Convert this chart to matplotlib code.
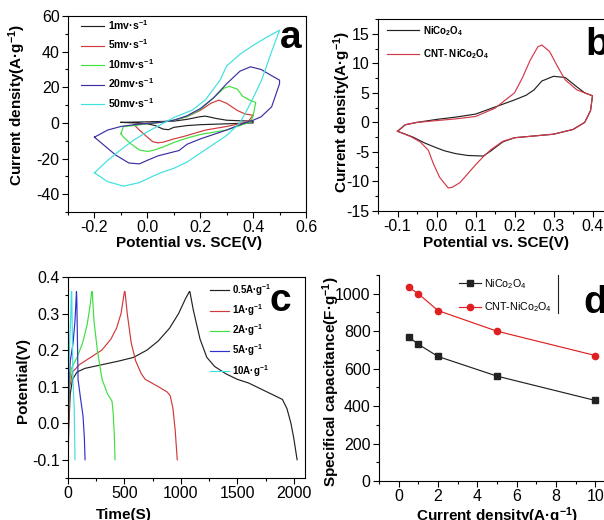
import matplotlib
matplotlib.use('Agg')
import matplotlib.pyplot as plt
from matplotlib.ticker import MultipleLocator, FormatStrFormatter

plt.rcParams['font.family'] = ['Liberation Sans', 'DejaVu Sans']
plt.rcParams['mathtext.fontset'] = 'custom'
plt.rcParams['mathtext.rm'] = 'Liberation Sans'
plt.rcParams['mathtext.bf'] = 'Liberation Sans:bold'
plt.rcParams['mathtext.default'] = 'regular'
plt.rcParams['axes.unicode_minus'] = False

# ---------------- Panel a: CV at different scan rates ----------------
a_labels = ['1mv·s$^{-1}$', '5mv·s$^{-1}$', '10mv·s$^{-1}$', '20mv·s$^{-1}$', '50mv·s$^{-1}$']
a_colors = ['#222222', '#d03a3a', '#3fe03f', '#3a30a0', '#3fe0e0']

a1_x = [-0.1, 0.0, 0.1, 0.15, 0.2, 0.22, 0.26, 0.3, 0.35, 0.4, 0.4, 0.3, 0.2, 0.15, 0.1, 0.08, 0.06, 0.03, 0.0, -0.05, -0.1]
a1_y = [0.3, 0.6, 1.0, 2.0, 3.5, 3.8, 2.5, 1.5, 1.2, 1.0, 0.0, -0.5, -1.0, -1.5, -2.5, -3.8, -3.5, -1.5, -0.5, 0.0, 0.3]

a5_x = [-0.05, 0.0, 0.05, 0.1, 0.15, 0.2, 0.24, 0.27, 0.3, 0.34, 0.37, 0.4,
        0.4, 0.38, 0.3, 0.22, 0.14, 0.1, 0.06, 0.04, 0.02, 0.0, -0.03, -0.05]
a5_y = [-1.0, -0.3, 0.3, 1.5, 3.5, 7.0, 11.0, 12.8, 11.0, 7.0, 5.0, 4.3,
        4.3, 0.5, -2.0, -4.0, -7.5, -9.0, -10.8, -11.2, -10.5, -8.0, -4.0, -1.0]

a10_x = [-0.1, -0.09, -0.05, 0.0, 0.05, 0.1, 0.15, 0.2, 0.25, 0.29, 0.31, 0.34, 0.36, 0.39, 0.41,
         0.40, 0.39, 0.3, 0.2, 0.15, 0.1, 0.06, 0.02, 0.0, -0.03, -0.06, -0.09, -0.1]
a10_y = [-6.0, -2.0, -1.5, -0.5, 0.3, 1.5, 3.5, 7.5, 14.0, 19.5, 20.5, 19.0, 15.0, 12.5, 11.5,
         4.0, 0.5, -4.0, -6.5, -8.5, -11.0, -13.5, -15.5, -16.0, -15.2, -12.0, -8.0, -6.0]

a20_x = [-0.2, -0.15, -0.1, -0.05, 0.0, 0.05, 0.1, 0.15, 0.2, 0.25, 0.3, 0.35, 0.39, 0.43, 0.47, 0.5,
         0.5, 0.47, 0.43, 0.4, 0.35, 0.3, 0.25, 0.2, 0.15, 0.12, 0.08, 0.04, 0.0, -0.03, -0.07, -0.12, -0.16, -0.2]
a20_y = [-8.0, -4.0, -2.0, -1.0, -0.3, 0.3, 1.5, 4.0, 8.0, 14.0, 22.0, 29.0, 31.5, 30.0, 26.5, 24.0,
         22.0, 9.0, 3.4, 1.5, -1.0, -4.0, -6.5, -9.0, -12.0, -15.5, -17.0, -18.5, -21.0, -23.0, -22.5, -18.0, -13.0, -8.0]

a50_x = [-0.2, -0.15, -0.1, -0.05, 0.0, 0.05, 0.1, 0.17, 0.22, 0.25, 0.275, 0.3, 0.35, 0.4, 0.45, 0.5,
         0.5, 0.47, 0.432, 0.4, 0.376, 0.35, 0.3, 0.25, 0.21, 0.15, 0.1, 0.05, 0.02, -0.03, -0.09, -0.15, -0.2]
a50_y = [-28.0, -21.0, -15.0, -9.5, -5.0, -1.0, 3.0, 7.2, 13.0, 19.0, 24.0, 32.0, 38.5, 43.5, 48.0, 52.0,
         52.0, 40.0, 24.0, 14.0, 7.0, 0.0, -7.0, -12.0, -16.0, -22.0, -25.5, -28.0, -30.0, -33.5, -35.5, -33.0, -28.0]

# ---------------- Panel b: CV comparison ----------------
b_labels = ['NiCo$_2$O$_4$', 'CNT- NiCo$_2$O$_4$']
b_colors = ['#222222', '#d23848']
b1_x = [-0.1, -0.08, -0.05, 0.0, 0.05, 0.1, 0.15, 0.2, 0.23, 0.25, 0.27, 0.3, 0.33, 0.36, 0.38, 0.4,
        0.4, 0.395, 0.38, 0.35, 0.3, 0.25, 0.2, 0.17, 0.14, 0.12, 0.08, 0.05, 0.02, 0.0, -0.03, -0.06, -0.1]
b1_y = [-1.5, -0.4, 0.0, 0.5, 0.9, 1.4, 2.6, 3.8, 4.6, 5.5, 7.0, 7.8, 7.6, 6.0, 5.0, 4.5,
        4.5, 2.0, 0.0, -1.2, -2.0, -2.3, -2.6, -3.3, -4.8, -5.7, -5.6, -5.3, -4.8, -4.3, -3.5, -2.5, -1.5]
b2_x = [-0.1, -0.08, -0.05, 0.0, 0.05, 0.1, 0.15, 0.2, 0.22, 0.24, 0.26, 0.27, 0.29, 0.31, 0.33, 0.36, 0.4,
        0.4, 0.395, 0.38, 0.35, 0.3, 0.25, 0.2, 0.17, 0.14, 0.12, 0.1, 0.08, 0.06, 0.04, 0.03, 0.008, -0.008, -0.021, -0.042, -0.066, -0.1]
b2_y = [-1.5, -0.4, 0.0, 0.3, 0.6, 1.0, 2.4, 5.0, 7.5, 10.5, 12.8, 13.1, 12.0, 9.5, 7.2, 5.5, 4.5,
        4.5, 2.0, 0.0, -1.2, -2.0, -2.3, -2.6, -3.2, -4.6, -5.8, -7.2, -8.7, -10.2, -11.0, -11.1, -9.3, -7.0, -4.7, -3.3, -2.4, -1.5]

# ---------------- Panel c: galvanostatic charge-discharge ----------------
c_labels = ['0.5A·g$^{-1}$', '1A·g$^{-1}$', '2A·g$^{-1}$', '5A·g$^{-1}$', '10A·g$^{-1}$']
c_colors = ['#222222', '#d03a3a', '#3fe03f', '#3030d0', '#3fe0e0']
c05_t = [0, 8, 20, 40, 80, 150, 300, 450, 580, 700, 800, 900, 980, 1040, 1075,
         1080, 1110, 1170, 1230, 1300, 1400, 1500, 1600, 1700, 1800, 1900, 1940, 1975, 2000, 2030]
c05_v = [-0.1, 0.0, 0.08, 0.12, 0.14, 0.15, 0.16, 0.17, 0.18, 0.2, 0.225, 0.26, 0.3, 0.34, 0.36,
         0.36, 0.31, 0.23, 0.18, 0.155, 0.135, 0.12, 0.11, 0.095, 0.08, 0.065, 0.04, 0.0, -0.04, -0.1]
c1_t = [0, 5, 15, 40, 100, 200, 300, 380, 430, 470, 500,
        505, 525, 560, 600, 650, 684, 800, 880, 906, 930, 950, 968]
c1_v = [-0.1, 0.0, 0.1, 0.14, 0.16, 0.18, 0.2, 0.23, 0.26, 0.3, 0.36,
        0.36, 0.3, 0.22, 0.17, 0.135, 0.12, 0.1, 0.085, 0.075, 0.04, -0.02, -0.1]
c2_t = [0, 3, 10, 30, 80, 130, 170, 195, 210, 215, 230, 260, 302, 350, 390, 400, 410, 417]
c2_v = [-0.1, 0.0, 0.1, 0.15, 0.18, 0.22, 0.27, 0.32, 0.36, 0.36, 0.28, 0.2, 0.12, 0.08, 0.06, 0.03, -0.03, -0.1]
c5_t = [0, 2, 8, 20, 45, 62, 75, 78, 84, 89, 110, 133, 145, 151]
c5_v = [-0.1, 0.0, 0.1, 0.17, 0.22, 0.28, 0.36, 0.34, 0.22, 0.12, 0.07, 0.02, -0.04, -0.1]
c10_t = [0, 3, 8, 15, 25, 30, 33, 38, 44, 55, 62]
c10_v = [-0.1, 0.05, 0.15, 0.22, 0.3, 0.36, 0.36, 0.25, 0.12, 0.04, -0.1]

# ---------------- Panel d: rate capability ----------------
d_current = [0.5, 1, 2, 5, 10]
d_nico = [770, 730, 665, 560, 430]
d_cnt = [1035, 1000, 910, 800, 670]
d_labels = ['NiCo$_2$O$_4$', 'CNT-NiCo$_2$O$_4$']

fig = plt.figure(figsize=(6.04, 5.2), dpi=100)
W, H = 604.0, 520.0

def make_ax(l, r, t, b):
    return fig.add_axes([l / W, 1 - b / H, (r - l) / W, (b - t) / H])

def style(ax):
    for s in ax.spines.values():
        s.set_linewidth(0.8)
    ax.tick_params(which='both', direction='out', width=0.8, labelsize=11.5, pad=2)
    ax.tick_params(which='major', length=4)
    ax.tick_params(which='minor', length=2.5)

lw = 0.85
fs_lab = 11
fs_panel = 28

# ---- a ----
axa = make_ax(68, 306, 16, 212)
style(axa)
for xs, ys, c, lab in zip([a1_x, a5_x, a10_x, a20_x, a50_x], [a1_y, a5_y, a10_y, a20_y, a50_y], a_colors, a_labels):
    axa.plot(xs, ys, color=c, lw=lw, label=lab)
axa.set_xlim(-0.3, 0.6)
axa.set_ylim(-50, 60)
axa.xaxis.set_minor_locator(MultipleLocator(0.1))
axa.yaxis.set_major_locator(MultipleLocator(20))
axa.yaxis.set_minor_locator(MultipleLocator(10))
axa.set_xticks([-0.2, 0.0, 0.2, 0.4, 0.6])
axa.xaxis.set_major_formatter(FormatStrFormatter('%.1f'))
axa.set_xlabel('Potential vs. SCE(V)', fontsize=fs_lab, fontweight='bold')
axa.set_ylabel('Current density(A·g$^{-1}$)', fontsize=fs_lab, fontweight='bold')
axa.xaxis.set_label_coords(0.508, -0.122)
axa.yaxis.set_label_coords(-0.168, 0.546)
axa.legend(loc='upper left', bbox_to_anchor=(0.055, 0.99), frameon=False,
           prop={'size': 7.5, 'weight': 'bold'}, handlelength=2.2, handletextpad=0.4,
           labelspacing=0.55, borderaxespad=0, borderpad=0)
axa.text(0.891, 0.837, 'a', transform=axa.transAxes, fontsize=fs_panel, fontweight='bold',
         ha='left', va='baseline')

# ---- b ----
axb = make_ax(378, 612, 19, 211)
style(axb)
axb.plot(b1_x, b1_y, color=b_colors[0], lw=lw, label=b_labels[0])
axb.plot(b2_x, b2_y, color=b_colors[1], lw=lw, label=b_labels[1])
axb.set_xlim(-0.15, 0.45)
axb.set_ylim(-15, 17.5)
axb.set_xticks([-0.1, 0.0, 0.1, 0.2, 0.3, 0.4])
axb.xaxis.set_minor_locator(MultipleLocator(0.05))
axb.set_yticks([-15, -10, -5, 0, 5, 10, 15])
axb.yaxis.set_minor_locator(MultipleLocator(2.5))
axb.xaxis.set_major_formatter(FormatStrFormatter('%.1f'))
axb.set_xlabel('Potential vs. SCE(V)', fontsize=fs_lab, fontweight='bold')
axb.set_ylabel('Current density(A·g$^{-1}$)', fontsize=fs_lab, fontweight='bold')
axb.xaxis.set_label_coords(0.504, -0.13)
axb.yaxis.set_label_coords(-0.107, 0.515)
axb.legend(loc='upper left', bbox_to_anchor=(0.04, 0.975), frameon=False,
           prop={'size': 7, 'weight': 'bold'}, handlelength=3.3, handletextpad=0.4,
           labelspacing=1.0, borderaxespad=0, borderpad=0)
axb.text(0.885, 0.81, 'b', transform=axb.transAxes, fontsize=fs_panel, fontweight='bold',
         ha='left', va='baseline')

# ---- c ----
axc = make_ax(68, 305, 277, 478)
style(axc)
for ts, vs, c, lab in zip([c05_t, c1_t, c2_t, c5_t, c10_t], [c05_v, c1_v, c2_v, c5_v, c10_v], c_colors, c_labels):
    axc.plot(ts, vs, color=c, lw=lw, label=lab)
axc.set_xlim(0, 2100)
axc.set_ylim(-0.15, 0.4)
axc.set_xticks([0, 500, 1000, 1500, 2000])
axc.xaxis.set_minor_locator(MultipleLocator(250))
axc.set_yticks([-0.1, 0.0, 0.1, 0.2, 0.3, 0.4])
axc.yaxis.set_minor_locator(MultipleLocator(0.05))
axc.yaxis.set_major_formatter(FormatStrFormatter('%.1f'))
axc.set_xlabel('Time(S)', fontsize=fs_lab, fontweight='bold')
axc.set_ylabel('Potential(V)', fontsize=fs_lab, fontweight='bold')
axc.xaxis.set_label_coords(0.236, -0.15)
axc.yaxis.set_label_coords(-0.16, 0.485)
axc.legend(loc='upper left', bbox_to_anchor=(0.6, 0.975), frameon=False,
           prop={'size': 7, 'weight': 'bold'}, handlelength=1.9, handletextpad=0.35,
           labelspacing=0.45, borderaxespad=0, borderpad=0)
axc.text(0.85, 0.832, 'c', transform=axc.transAxes, fontsize=fs_panel, fontweight='bold',
         ha='left', va='baseline')

# ---- d ----
axd = make_ax(379, 615, 275, 481)
style(axd)
axd.spines['top'].set_visible(False)
axd.spines['right'].set_visible(False)
axd.plot(d_current, d_nico, color='#222222', lw=lw, marker='s', ms=4, label=d_labels[0])
axd.plot(d_current, d_cnt, color='#e02020', lw=lw, marker='o', ms=4.5, label=d_labels[1])
axd.set_xlim(-1, 11)
axd.set_ylim(0, 1100)
axd.set_xticks([0, 2, 4, 6, 8, 10])
axd.xaxis.set_minor_locator(MultipleLocator(1))
axd.set_yticks([0, 200, 400, 600, 800, 1000])
axd.yaxis.set_minor_locator(MultipleLocator(100))
axd.set_xlabel('Current density(A·g$^{-1}$)', fontsize=fs_lab, fontweight='bold')
axd.set_ylabel('Specifical capacitance(F·g$^{-1}$)', fontsize=fs_lab, fontweight='bold')
axd.xaxis.set_label_coords(0.5, -0.12)
axd.yaxis.set_label_coords(-0.157, 0.48)
axd.legend(loc='upper left', bbox_to_anchor=(0.34, 0.99), frameon=False,
           prop={'size': 7.7}, handlelength=2.0, handletextpad=0.3,
           labelspacing=0.9, borderaxespad=0, borderpad=0)
axd.plot([0.758, 0.758], [0.816, 1.0], transform=axd.transAxes, color='#222222', lw=0.8, clip_on=False)
axd.text(0.864, 0.816, 'd', transform=axd.transAxes, fontsize=fs_panel, fontweight='bold',
         ha='left', va='baseline')

fig.savefig('out.png', dpi=100)
